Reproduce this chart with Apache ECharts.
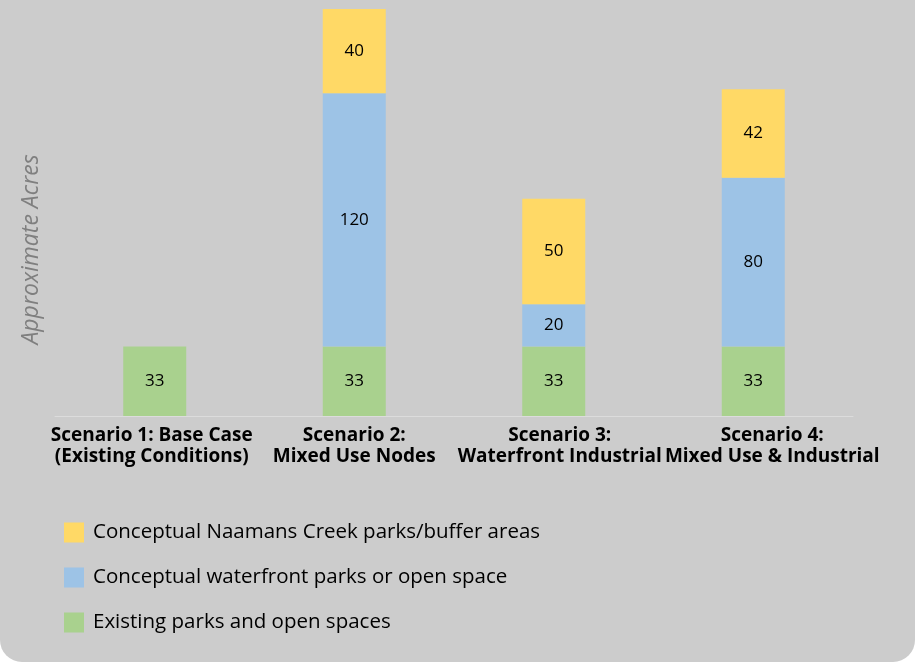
<!DOCTYPE html>
<html>
<head>
<meta charset="utf-8">
<script src="https://cdn.jsdelivr.net/npm/echarts@6/dist/echarts.min.js"></script>
<style>
html,body{margin:0;padding:0;background:#ffffff;}
#chart{width:915px;height:662px;background:#cccccc;border-radius:0 0 22px 22px;overflow:hidden;}
</style>
</head>
<body>
<div id="chart"></div>
<script>
const categories = [
  'Scenario 1: Base Case\n(Existing Conditions)',
  'Scenario 2:\nMixed Use Nodes',
  'Scenario 3:\nWaterfront Industrial',
  'Scenario 4:\nMixed Use & Industrial'
];
const existingParks = [33, 33, 33, 33];
const waterfrontParks = [null, 120, 20, 80];
const naamansCreek = [null, 40, 50, 42];
const seriesNames = [
  'Existing parks and open spaces',
  'Conceptual waterfront parks or open space',
  'Conceptual Naamans Creek parks/buffer areas'
];
const yAxisName = 'Approximate Acres';

const FONT = 'Open Sans';
// small horizontal nudges of the category labels, as in the reference
const labelPads = [[0, 6, 0, 0], [0, 0, 0, 0], [0, 0, 0, 12], [0, 0, 0, 38]];
const catData = categories.map((c, i) => ({value: c, textStyle: {padding: labelPads[i]}}));

const chart = echarts.init(document.getElementById('chart'), null, {renderer: 'canvas'});
const labelCfg = {show: true, position: 'inside', color: '#000000', fontSize: 17, fontFamily: FONT};
function mk(name, data, color) {
  return {
    name: name, type: 'bar', stack: 'acres', data: data, barWidth: 63,
    itemStyle: {color: color}, label: labelCfg, emphasis: {disabled: true}
  };
}
chart.setOption({
  backgroundColor: 'transparent',
  animation: false,
  textStyle: {fontFamily: FONT},
  grid: {left: 55, top: 9, width: 798, height: 407, containLabel: false},
  xAxis: {
    type: 'category', data: catData,
    axisLine: {show: true, lineStyle: {color: '#dcdcdc', width: 1}},
    axisTick: {show: false},
    axisLabel: {interval: 0, color: '#000000', fontSize: 19, fontWeight: 'bold', fontFamily: FONT, lineHeight: 21, margin: 9}
  },
  yAxis: {
    type: 'value', min: 0, max: 193,
    name: yAxisName, nameLocation: 'middle', nameRotate: 90, nameGap: 12,
    nameTextStyle: {color: '#7f7f7f', fontSize: 23, fontStyle: 'italic', fontFamily: FONT, padding: [0, 74, 0, 0]},
    axisLine: {show: false}, axisTick: {show: false}, axisLabel: {show: false}, splitLine: {show: false}
  },
  legend: {
    orient: 'vertical', left: 59, top: 517,
    itemWidth: 20, itemHeight: 20, itemGap: 24, icon: 'rect',
    data: [seriesNames[2], seriesNames[1], seriesNames[0]],
    textStyle: {color: '#000000', fontSize: 20.5, fontFamily: FONT, padding: [0, 0, 0, 4]}
  },
  series: [
    mk(seriesNames[0], existingParks, '#A9D18E'),
    mk(seriesNames[1], waterfrontParks, '#9DC3E6'),
    mk(seriesNames[2], naamansCreek, '#FFD966')
  ]
});
</script>
</body>
</html>
